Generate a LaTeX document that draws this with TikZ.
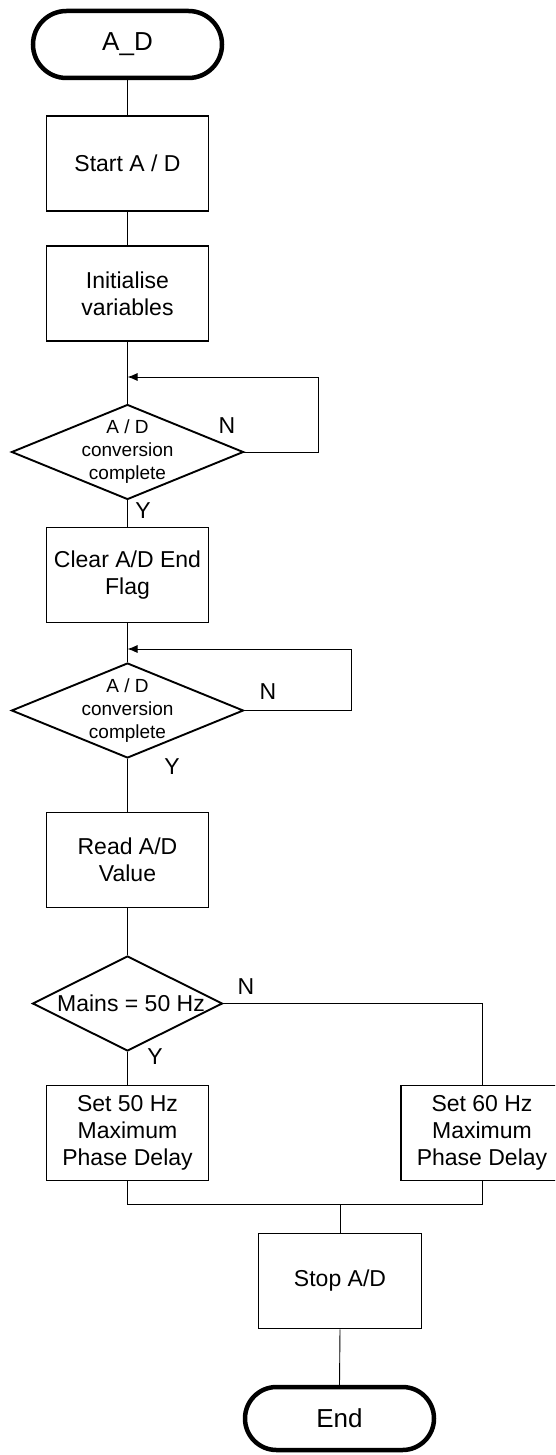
\documentclass[tikz,border=0pt]{standalone}
\usepackage{fontspec}
\setmainfont{Liberation Sans}
\usetikzlibrary{shapes.geometric,shapes.misc,arrows.meta}
\begin{document}
\begin{tikzpicture}[x=1pt,y=-1pt,
  term/.style={draw,line width=4.5pt,rounded rectangle,minimum width=189pt,minimum height=67pt,inner sep=0pt,font=\fontsize{26}{30}\selectfont},
  proc/.style={draw,line width=1.9pt,rectangle,minimum width=162pt,minimum height=95pt,inner sep=0pt,align=center,font=\fontsize{23}{27}\selectfont},
  dia/.style={draw,line width=1.9pt,diamond,inner sep=0pt},
  dtext/.style={align=center,inner sep=0pt,font=\fontsize{19}{23}\selectfont},
  lbl/.style={inner sep=0pt,font=\fontsize{23}{27}\selectfont},
  conn/.style={line width=0.9pt},
  arr/.style={conn,-{Latex[length=10pt,width=8pt]}}]
\clip (0,0) rectangle (555,1455);
% nodes
\node[term] (t1) at (127.5,44.5) {A\_D};
\node[proc] (p1) at (127.5,163.5) {Start A / D};
\node[proc] (p2) at (127.5,293.5) {Initialise\\variables};
\node[dia,minimum width=232pt,minimum height=95pt] (d1) at (127.5,452) {};
\node[dtext] (d1t) at (d1) {A / D\\conversion\\complete};
\node[proc] (p3) at (127.5,575) {Clear A/D End\\Flag};
\node[dia,minimum width=232pt,minimum height=95pt] (d2) at (127.5,710.5) {};
\node[dtext] (d2t) at (d2) {A / D\\conversion\\complete};
\node[proc] (p4) at (127.5,860) {Read A/D\\Value};
\node[dia,minimum width=190pt,minimum height=95pt] (d3) at (127.5,1003.5) {};
\node[lbl] (d3t) at (131,1003) {Mains = 50 Hz};
\node[proc] (p5) at (127.5,1133) {Set 50 Hz\\Maximum\\Phase Delay};
\node[proc] (p6) at (482,1133) {Set 60 Hz\\Maximum\\Phase Delay};
\node[proc,minimum width=163pt] (p7) at (340,1281) {Stop A/D};
\node[term,minimum height=63pt] (t2) at (339.5,1418.5) {End};
% labels
\node[lbl] (n1) at (227,426) {N};
\node[lbl] (y1) at (143,511) {Y};
\node[lbl] (n2) at (268,692) {N};
\node[lbl] (y2) at (172,767) {Y};
\node[lbl] (n3) at (246,987) {N};
\node[lbl] (y3) at (155,1057) {Y};
% coordinates
\coordinate (r1) at (318,377);
\coordinate (a1) at (127.5,377);
\coordinate (r2) at (351,649);
\coordinate (a2) at (127.5,649);
\coordinate (m) at (340,1204);
% connectors
\draw[conn] (t1.south) -- (p1.north);
\draw[conn] (p1.south) -- (p2.north);
\draw[conn] (p2.south) -- (d1.north);
\draw[arr] (d1.east) -| (r1) -- (a1);
\draw[conn] (d1.south) -- (p3.north);
\draw[conn] (p3.south) -- (d2.north);
\draw[arr] (d2.east) -| (r2) -- (a2);
\draw[conn] (d2.south) -- (p4.north);
\draw[conn] (p4.south) -- (d3.north);
\draw[conn] (d3.south) -- (p5.north);
\draw[conn] (d3.east) -| (p6.north);
\draw[conn] (p5.south) |- (m) -| (p6.south);
\draw[conn] (m) -- (p7.north);
\draw[conn] (p7.south) -- (t2.north);
\end{tikzpicture}
\end{document}
